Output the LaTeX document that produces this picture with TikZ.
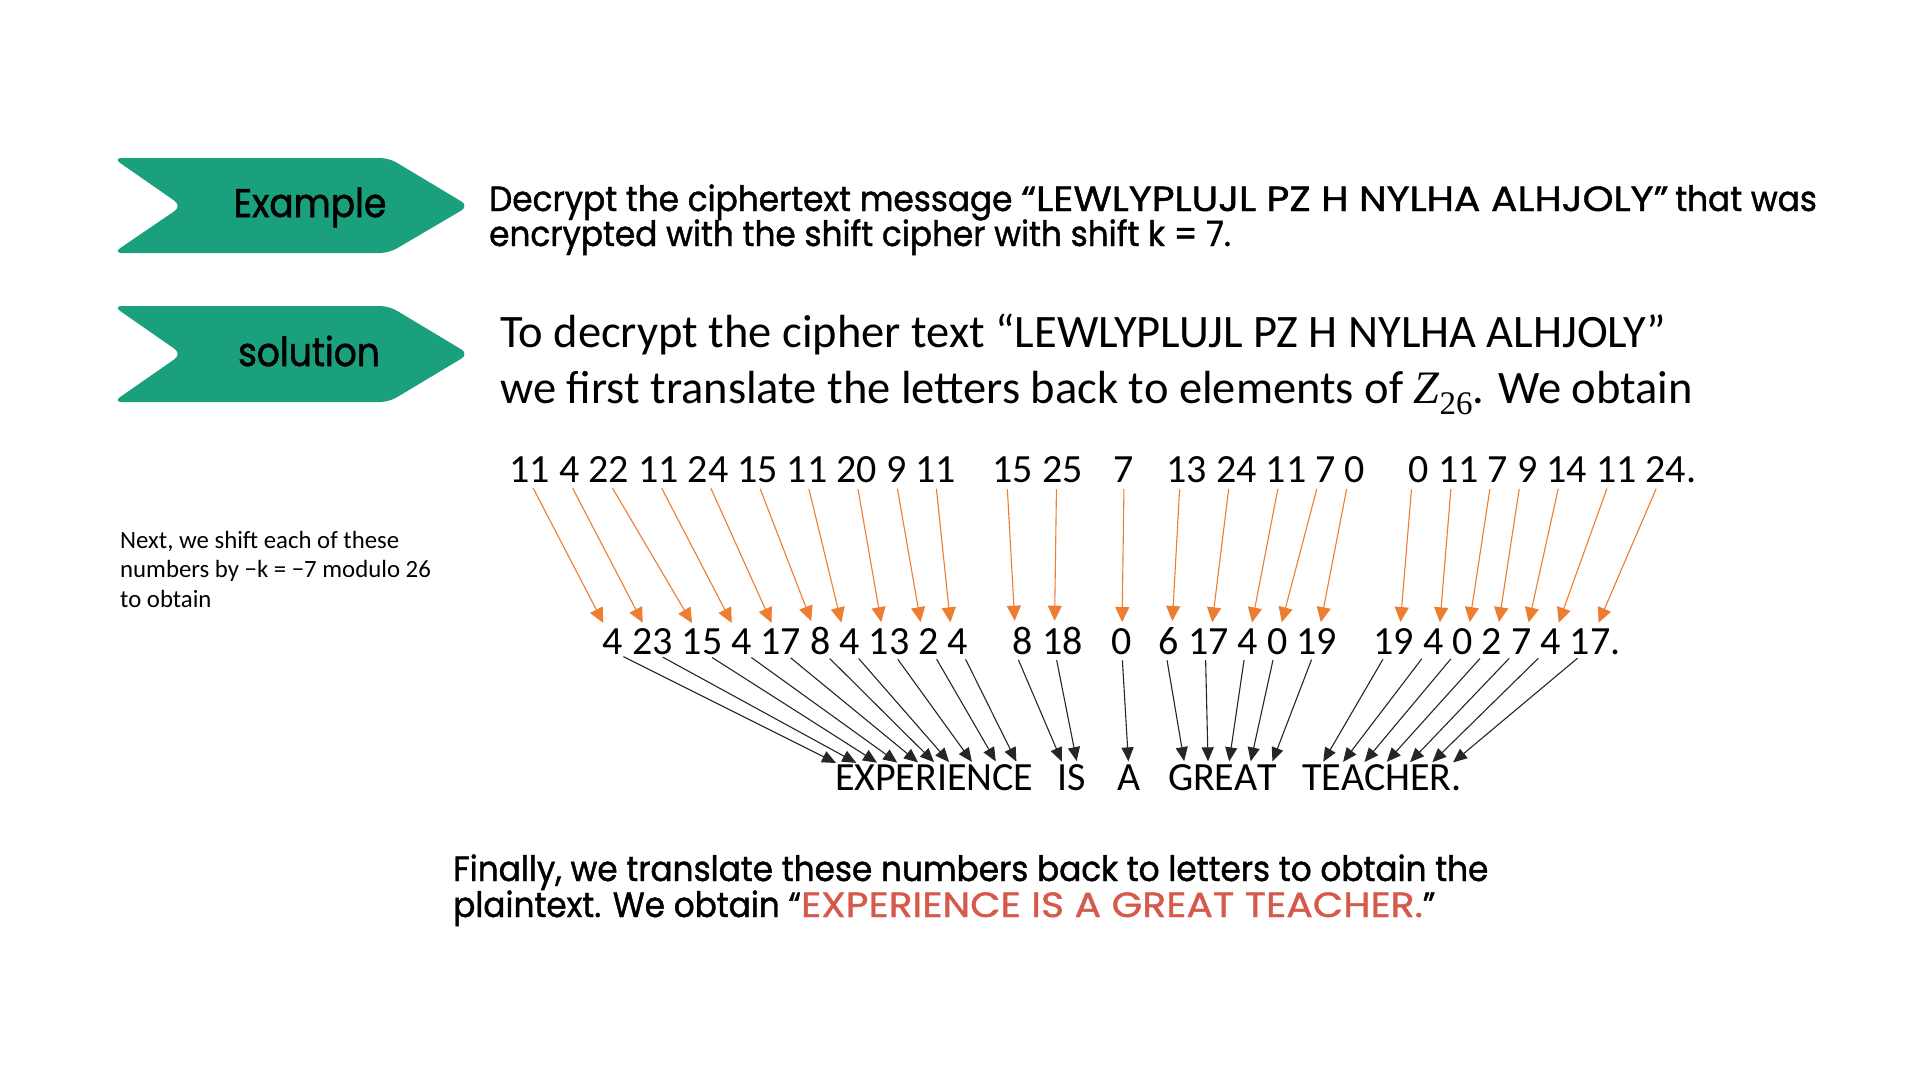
\documentclass[tikz,border=0pt]{standalone}
\usepackage{fontspec}
\setmainfont{Carlito}
\newfontfamily\popl{Poppins}[FakeStretch=0.935, FakeBold=1.2]
\newfontfamily\popc{Poppins}[FakeStretch=1.125, FakeBold=1.2]
\newfontfamily\popn{Poppins}[FakeStretch=0.9, FakeBold=1.4]
\newfontfamily\serif{Liberation Serif}
\usetikzlibrary{arrows.meta}
\definecolor{tealg}{RGB}{26,160,125}
\definecolor{arrorange}{RGB}{237,125,49}
\definecolor{ansred}{RGB}{214,90,75}
\def\gp{9.04pt}
\begin{document}
\begin{tikzpicture}[x=1pt,y=-1pt,
  banner/.style={fill=tealg, rounded corners=9pt},
  lbl/.style={font=\popn\fontsize{40}{40}\selectfont, inner sep=0pt, anchor=base},
  poptxt/.style={font=\popl\fontsize{35}{35}\selectfont, inner sep=0pt, anchor=base west},
  caltxt/.style={font=\fontsize{46.5}{46.5}\selectfont, inner sep=0pt, anchor=base west},
  note/.style={font=\fontsize{24.8}{24.8}\selectfont, inner sep=0pt, anchor=base west},
  num/.style={font=\fontsize{40}{40}\selectfont, inner sep=0pt, outer sep=0pt, anchor=base west},
  oar/.style={draw=arrorange, line width=1.1pt, -{Triangle[length=15pt,width=14pt]}, shorten <=7pt, shorten >=6pt},
  bar/.style={draw=black!85, line width=1.1pt, -{Triangle[length=14pt,width=12pt]}, shorten <=6pt, shorten >=3pt},
]
\useasboundingbox[fill=white] (0,0) rectangle (1920,1080);

% banners
\fill[banner] (113,158) -- (389,158) -- (469,206) -- (389,253) -- (113,253) -- (182,206) -- cycle;
\fill[banner] (113,306) -- (389,306) -- (469,354) -- (389,402) -- (113,402) -- (182,354) -- cycle;
\node[lbl] (ex) at (310,217) {Example};
\node[lbl] (sol) at (309,366) {solution};

% question
\node[poptxt] (q1) at (489,211) {Decrypt the ciphertext message {\popc“LEWLYPLUJL PZ H NYLHA ALHJOLY”}\hspace{-2pt} that was};
\node[poptxt] (q2) at (489,246) {encrypted with the shift cipher with shift k = 7.};

% solution text
\node[caltxt] (s1) at (500,347) {To decrypt the cipher text “LEWLYPLUJL PZ H NYLHA ALHJOLY”};
\node[caltxt] (s2) at (500,403) {we first translate the letters back to elements of {\serif\itshape Z}\raisebox{-0.25em}{\serif\fontsize{33}{33}\selectfont 26}. We obtain};

% note
\node[note] (n1) at (120,548) {Next, we shift each of these};
\node[note] (n2) at (120,577) {numbers by −k = −7 modulo 26};
\node[note] (n3) at (120,607) {to obtain};

% top numbers
\node[num] (t1) at (509.7,482) {11};
\node[num] (t2) at ([xshift=\gp]t1.base east) {4};
\node[num] (t3) at ([xshift=\gp]t2.base east) {22};
\node[num] (t4) at ([xshift=\gp]t3.base east) {11};
\node[num] (t5) at ([xshift=\gp]t4.base east) {24};
\node[num] (t6) at ([xshift=\gp]t5.base east) {15};
\node[num] (t7) at ([xshift=\gp]t6.base east) {11};
\node[num] (t8) at ([xshift=\gp]t7.base east) {20};
\node[num] (t9) at ([xshift=\gp]t8.base east) {9};
\node[num] (t10) at ([xshift=\gp]t9.base east) {11};
\node[num] (t11) at (992.7,482) {15};
\node[num] (t12) at ([xshift=\gp]t11.base east) {25};
\node[num] (t13) at (1113.9,482) {7};
\node[num] (t14) at (1166.7,482) {13};
\node[num] (t15) at ([xshift=\gp]t14.base east) {24};
\node[num] (t16) at ([xshift=\gp]t15.base east) {11};
\node[num] (t17) at ([xshift=\gp]t16.base east) {7};
\node[num] (t18) at ([xshift=\gp]t17.base east) {0};
\node[num] (t19) at (1408.9,482) {0};
\node[num] (t20) at ([xshift=\gp]t19.base east) {11};
\node[num] (t21) at ([xshift=\gp]t20.base east) {7};
\node[num] (t22) at ([xshift=\gp]t21.base east) {9};
\node[num] (t23) at ([xshift=\gp]t22.base east) {14};
\node[num] (t24) at ([xshift=\gp]t23.base east) {11};
\node[num] (t25) at ([xshift=\gp]t24.base east) {24.};

% bottom numbers
\node[num] (b1) at (602.9,654) {4};
\node[num] (b2) at ([xshift=\gp]b1.base east) {23};
\node[num] (b3) at ([xshift=\gp]b2.base east) {15};
\node[num] (b4) at ([xshift=\gp]b3.base east) {4};
\node[num] (b5) at ([xshift=\gp]b4.base east) {17};
\node[num] (b6) at ([xshift=\gp]b5.base east) {8};
\node[num] (b7) at ([xshift=\gp]b6.base east) {4};
\node[num] (b8) at ([xshift=\gp]b7.base east) {13};
\node[num] (b9) at ([xshift=\gp]b8.base east) {2};
\node[num] (b10) at ([xshift=\gp]b9.base east) {4};
\node[num] (b11) at (1012.9,654) {8};
\node[num] (b12) at ([xshift=\gp]b11.base east) {18};
\node[num] (b13) at (1111.9,654) {0};
\node[num] (b14) at (1158.9,654) {6};
\node[num] (b15) at ([xshift=\gp]b14.base east) {17};
\node[num] (b16) at ([xshift=\gp]b15.base east) {4};
\node[num] (b17) at ([xshift=\gp]b16.base east) {0};
\node[num] (b18) at ([xshift=\gp]b17.base east) {19};
\node[num] (b19) at (1373.7,654) {19};
\node[num] (b20) at ([xshift=\gp]b19.base east) {4};
\node[num] (b21) at ([xshift=\gp]b20.base east) {0};
\node[num] (b22) at ([xshift=\gp]b21.base east) {2};
\node[num] (b23) at ([xshift=\gp]b22.base east) {7};
\node[num] (b24) at ([xshift=\gp]b23.base east) {4};
\node[num] (b25) at ([xshift=\gp]b24.base east) {17.};

% plaintext letters
\node[num] (l1) at (835,790) {E};
\node[num] (l2) at (l1.base east) {X};
\node[num] (l3) at (l2.base east) {P};
\node[num] (l4) at (l3.base east) {E};
\node[num] (l5) at (l4.base east) {R};
\node[num] (l6) at (l5.base east) {I};
\node[num] (l7) at (l6.base east) {E};
\node[num] (l8) at (l7.base east) {N};
\node[num] (l9) at (l8.base east) {C};
\node[num] (l10) at (l9.base east) {E};
\node[num] (l11) at (1057,790) {I};
\node[num] (l12) at (l11.base east) {S};
\node[num] (l13) at (1117,790) {A};
\node[num] (l14) at (1168,790) {G};
\node[num] (l15) at (l14.base east) {R};
\node[num] (l16) at (l15.base east) {E};
\node[num] (l17) at (l16.base east) {A};
\node[num] (l18) at (l17.base east) {T};
\node[num] (l19) at (1302,790) {T};
\node[num] (l20) at (l19.base east) {E};
\node[num] (l21) at (l20.base east) {A};
\node[num] (l22) at (l21.base east) {C};
\node[num] (l23) at (l22.base east) {H};
\node[num] (l24) at (l23.base east) {E};
\node[num] (l25) at (l24.base east) {R};
\node[num] (l26) at (l25.base east) {.};

% orange arrows: cipher numbers -> shifted numbers
\foreach \i/\a/\b in {1/0/-7,2/0/-7,3/0/-7,4/0/-7,5/0/-7,6/0/-7,7/0/-7,8/0/-7,9/0/-7,10/0/-7,
  11/-6/-8,12/-6/-8,13/0/0,14/-7/3,15/-7/3,16/-7/3,17/-7/3,18/-7/3,
  19/-7/6,20/-7/6,21/-7/6,22/-7/6,23/-7/6,24/-7/6,25/-12/1}
  \draw[oar] ([xshift=\a pt]t\i.south) -- ([xshift=\b pt]b\i.north);

% black arrows: shifted numbers -> letters
\foreach \i/\a/\c in {1/5/-6,2/5/-6,3/5/-6,4/5/-6,5/5/-6,6/5/-6,7/5/-6,8/5/-6,9/5/-6,10/5/-6,
  11/-7/1,12/-7/1,13/0/0,14/-3/4,15/-3/4,16/-3/4,17/-3/4,18/-3/4,
  19/-8/10,20/-8/10,21/-8/10,22/-8/10,23/-8/10,24/-8/10,25/-13/10}
  \draw[bar] ([xshift=\a pt]b\i.south) -- ([xshift=\c pt]l\i.north);

% conclusion
\node[poptxt] (f1) at (453,881) {Finally, we translate these numbers back to letters to obtain the};
\node[poptxt] (f2) at (453,917) {plaintext. We obtain “{\popc\color{ansred}EXPERIENCE IS A GREAT TEACHER.}”};
\end{tikzpicture}
\end{document}
